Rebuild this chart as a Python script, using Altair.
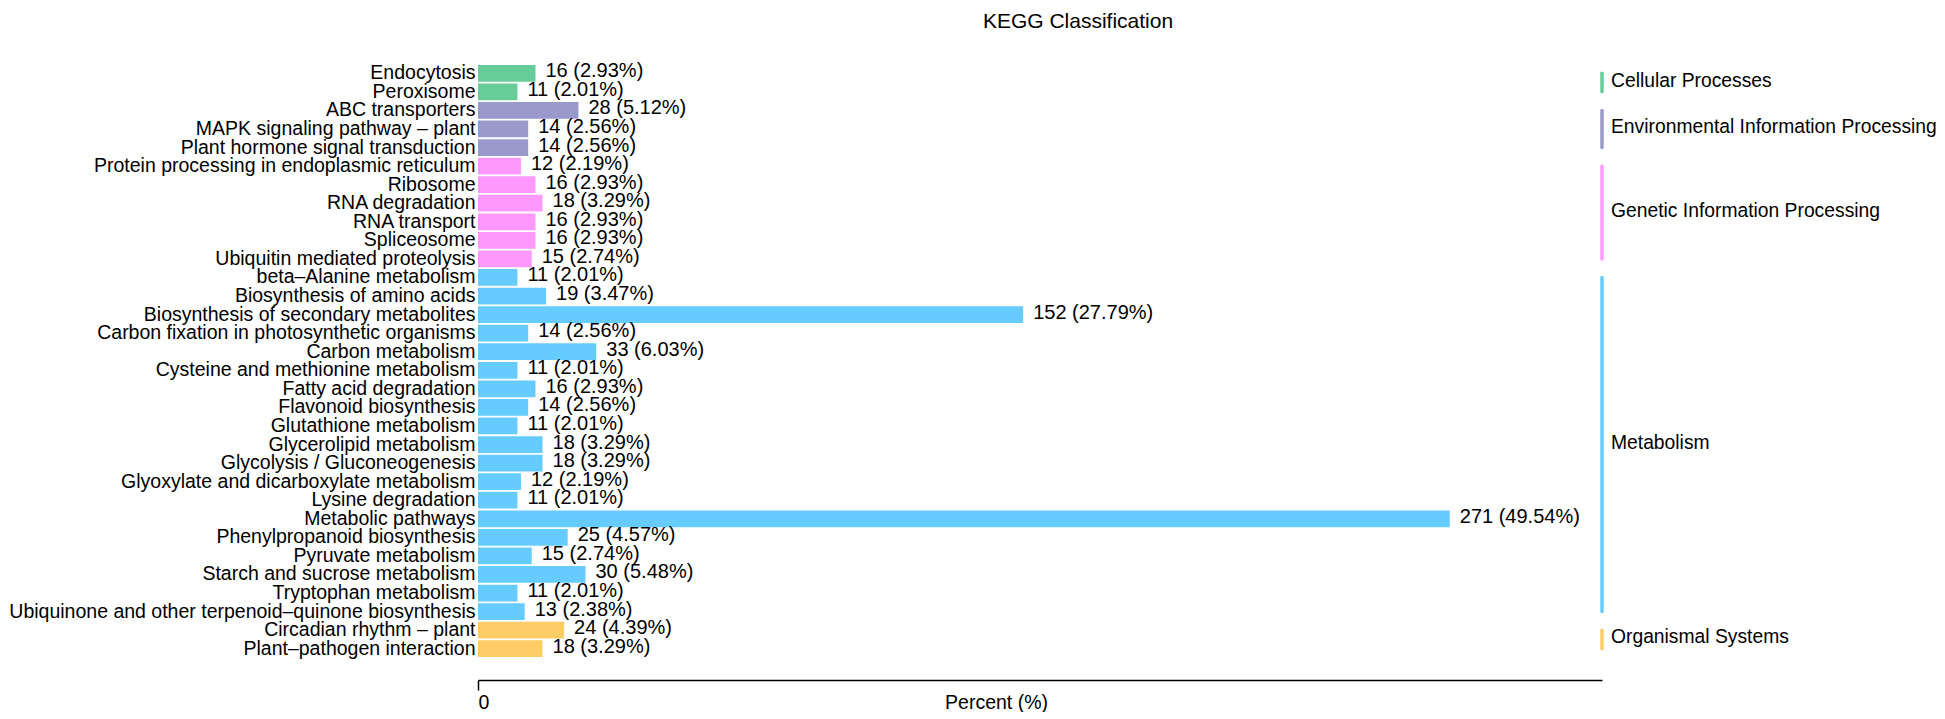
import altair as alt
import pandas as pd

pathways = [
    "Endocytosis", "Peroxisome", "ABC transporters", "MAPK signaling pathway – plant",
    "Plant hormone signal transduction", "Protein processing in endoplasmic reticulum",
    "Ribosome", "RNA degradation", "RNA transport", "Spliceosome",
    "Ubiquitin mediated proteolysis", "beta–Alanine metabolism",
    "Biosynthesis of amino acids", "Biosynthesis of secondary metabolites",
    "Carbon fixation in photosynthetic organisms", "Carbon metabolism",
    "Cysteine and methionine metabolism", "Fatty acid degradation",
    "Flavonoid biosynthesis", "Glutathione metabolism", "Glycerolipid metabolism",
    "Glycolysis / Gluconeogenesis", "Glyoxylate and dicarboxylate metabolism",
    "Lysine degradation", "Metabolic pathways", "Phenylpropanoid biosynthesis",
    "Pyruvate metabolism", "Starch and sucrose metabolism", "Tryptophan metabolism",
    "Ubiquinone and other terpenoid–quinone biosynthesis",
    "Circadian rhythm – plant", "Plant–pathogen interaction",
]
classes = (
    ["Cellular Processes"] * 2
    + ["Environmental Information Processing"] * 3
    + ["Genetic Information Processing"] * 6
    + ["Metabolism"] * 19
    + ["Organismal Systems"] * 2
)
counts = [16, 11, 28, 14, 14, 12, 16, 18, 16, 16, 15, 11, 19, 152, 14, 33, 11, 16,
          14, 11, 18, 18, 12, 11, 271, 25, 15, 30, 11, 13, 24, 18]
percents = [2.93, 2.01, 5.12, 2.56, 2.56, 2.19, 2.93, 3.29, 2.93, 2.93, 2.74, 2.01,
            3.47, 27.79, 2.56, 6.03, 2.01, 2.93, 2.56, 2.01, 3.29, 3.29, 2.19, 2.01,
            49.54, 4.57, 2.74, 5.48, 2.01, 2.38, 4.39, 3.29]

class_names = ["Cellular Processes", "Environmental Information Processing",
               "Genetic Information Processing", "Metabolism", "Organismal Systems"]
class_colors = ["#66CC99", "#9999CC", "#FF99FF", "#66CCFF", "#FFCC66"]

df = pd.DataFrame({"pathway": pathways, "cls": classes, "count": counts, "pct": percents})
df["label"] = [f"{c} ({p:.2f}%)" for c, p in zip(counts, percents)]

N = len(pathways)
grp = []
for name in class_names:
    idx = [i for i, c in enumerate(classes) if c == name]
    grp.append({"cls": name, "start": idx[0] + 0.5, "end": idx[-1] + 0.5,
                "mid": (idx[0] + idx[-1]) / 2 + 0.5})
gdf = pd.DataFrame(grp)

W = 1124
H = 594
FONT = "Liberation Sans"

color = alt.Color("cls:N", scale=alt.Scale(domain=class_names, range=class_colors), legend=None)

yband = alt.Y(
    "pathway:N", sort=pathways,
    scale=alt.Scale(paddingInner=0.1, paddingOuter=0.05),
    axis=alt.Axis(title=None, ticks=False, domain=False, labelFontSize=19.5,
                  labelPadding=3, labelLimit=1000, labelColor="black", labelFont=FONT),
)
xq = alt.X(
    "pct:Q",
    scale=alt.Scale(domain=[0, 57.3], nice=False),
    axis=alt.Axis(values=[0], title="Percent (%)", grid=False, offset=22, tickSize=10,
                  tickColor="black", tickWidth=1.5, domainColor="black", domainWidth=1.5,
                  labelFontSize=19.5, labelFont=FONT, labelColor="black", labelPadding=3,
                  titleFontSize=19.5, titleFont=FONT, titleFontWeight="normal",
                  titleColor="black", titleX=518, titleY=22, titleAlign="center",
                  titleBaseline="middle"),
)

bars = alt.Chart(df).mark_bar().encode(x=xq, y=yband, color=color)
vals = alt.Chart(df).mark_text(
    align="left", baseline="middle", dx=10, dy=-2, fontSize=20, font=FONT, color="black"
).encode(x="pct:Q", y=alt.Y("pathway:N", sort=pathways), text="label:N")

main = alt.layer(bars, vals)

qscale = alt.Scale(domain=[0, N], reverse=True, nice=False, zero=False)
lrule = alt.Chart(gdf).mark_rule(strokeWidth=3.5, strokeCap="round").encode(
    y=alt.Y("start:Q", scale=qscale, axis=None), y2="end:Q", x=alt.value(W), color=color
)
ltext = alt.Chart(gdf).mark_text(
    align="left", baseline="middle", dx=9, dy=-2, fontSize=19.3, font=FONT, color="black"
).encode(y=alt.Y("mid:Q", scale=qscale, axis=None), x=alt.value(W), text="cls:N")
legend = alt.layer(lrule, ltext)

chart = alt.layer(main, legend).resolve_scale(y="independent").properties(
    width=W, height=H,
    title=alt.TitleParams("KEGG Classification", fontSize=21, fontWeight="normal",
                          font=FONT, color="black", anchor="middle", dx=38, offset=29),
    padding={"left": 0, "top": 3, "right": 0, "bottom": 0},
).configure_view(stroke=None)

chart.save("out.html", embed_options={"renderer": "svg", "actions": False})
